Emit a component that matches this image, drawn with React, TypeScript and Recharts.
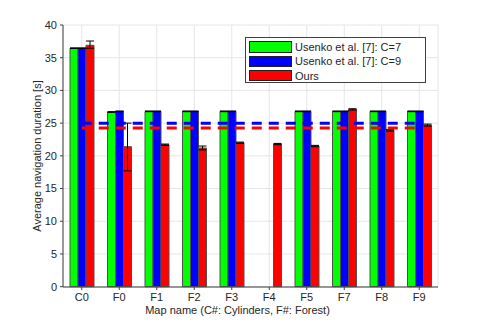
import React from 'react';
import { ComposedChart, Bar, Line, XAxis, YAxis, CartesianGrid, ErrorBar } from 'recharts';

const maps = ['C0', 'F0', 'F1', 'F2', 'F3', 'F4', 'F5', 'F7', 'F8', 'F9'];
const seriesNames = ['Usenko et al. [7]: C=7', 'Usenko et al. [7]: C=9', 'Ours'];
const seriesColors = ['#00ff00', '#0000ff', '#ff0000'];
const usenkoC7 = [36.45, 26.7, 26.8, 26.8, 26.8, 0, 26.8, 26.8, 26.8, 26.8];
const usenkoC9 = [36.45, 26.8, 26.8, 26.8, 26.8, 0, 26.8, 26.8, 26.8, 26.8];
const ours = [36.9, 21.4, 21.7, 21.2, 22.0, 21.8, 21.5, 27.1, 23.9, 24.7];
const errC7 = [0.05, 0.05, 0.05, 0.05, 0.05, 0.05, 0.05, 0.05, 0.05, 0.05];
const errC9 = [0.05, 0.05, 0.05, 0.05, 0.05, 0.05, 0.05, 0.05, 0.05, 0.05];
const errOurs: [number, number][] = [
  [0.45, 0.65], [3.7, 3.6], [0.1, 0.1], [0.3, 0.3], [0.1, 0.1],
  [0.1, 0.1], [0.1, 0.1], [0.1, 0.1], [0.1, 0.1], [0.15, 0.15],
];
const meanC9 = 25.0;
const meanOurs = 24.25;
const yTicks = [0, 5, 10, 15, 20, 25, 30, 35, 40];

const data = maps.map((m, i) => ({
  name: m,
  c7: usenkoC7[i],
  c9: usenkoC9[i],
  ours: ours[i],
  e7: errC7[i],
  e9: errC9[i],
  eo: errOurs[i],
  m9: meanC9,
  mo: meanOurs,
}));

const FONT = 'Liberation Sans, Arial, Helvetica, sans-serif';
const TXT = '#262626';
const AX = '#404040';

const XLabel = (props: any) => {
  const vb = props.viewBox;
  return (
    <text x={vb.x + vb.width / 2 - 13} y={vb.y + 24} textAnchor="middle" dominantBaseline="middle" fontSize={11} fill={TXT} fontFamily={FONT}>
      Map name (C#: Cylinders, F#: Forest)
    </text>
  );
};

const YLabel = (props: any) => {
  const vb = props.viewBox;
  const cx = vb.x + vb.width / 2 - 10;
  const cy = vb.y + vb.height / 2;
  return (
    <text x={cx} y={cy} transform={`rotate(-90, ${cx}, ${cy})`} textAnchor="middle" dominantBaseline="middle" fontSize={11} fill={TXT} fontFamily={FONT}>
      Average navigation duration [s]
    </text>
  );
};

export default function App() {
  return (
    <div style={{ position: 'absolute', left: 0, top: 0, width: 485, height: 323, background: '#fff' }}>
      <ComposedChart
        width={485}
        height={323}
        data={data}
        margin={{ top: 25, right: 47, bottom: 6, left: 33 }}
        barGap={0}
        barCategoryGap="18%"
      >
        <CartesianGrid stroke="#e6e6e6" strokeWidth={1} />
        <XAxis
          dataKey="name"
          height={30}
          tickSize={3}
          tickMargin={3}
          stroke={AX}
          tick={{ fontSize: 11, fill: TXT, fontFamily: FONT }}
          interval={0}
          label={<XLabel />}
        />
        <XAxis xAxisId="top" dataKey="name" orientation="top" height={0} tick={false} tickLine={false} stroke={AX} />
        <YAxis
          domain={[0, 40]}
          ticks={yTicks}
          width={30}
          tickSize={3}
          tickMargin={3}
          stroke={AX}
          interval={0}
          tick={{ fontSize: 11, fill: TXT, fontFamily: FONT }}
          label={<YLabel />}
        />
        <YAxis yAxisId="right" orientation="right" domain={[0, 40]} ticks={yTicks} width={0} tick={false} tickLine={false} stroke={AX} />
        <Bar dataKey="c7" name={seriesNames[0]} fill={seriesColors[0]} stroke="#505050" strokeWidth={1} barSize={8} isAnimationActive={false}>
          <ErrorBar dataKey="e7" width={4} stroke="#000" strokeWidth={1} direction="y" />
        </Bar>
        <Bar dataKey="c9" name={seriesNames[1]} fill={seriesColors[1]} stroke="#505050" strokeWidth={1} barSize={8} isAnimationActive={false}>
          <ErrorBar dataKey="e9" width={4} stroke="#000" strokeWidth={1} direction="y" />
        </Bar>
        <Bar dataKey="ours" name={seriesNames[2]} fill={seriesColors[2]} stroke="#505050" strokeWidth={1} barSize={8} isAnimationActive={false}>
          <ErrorBar dataKey="eo" width={4} stroke="#000" strokeWidth={1} direction="y" />
        </Bar>
        <Line dataKey="m9" stroke="#0000ff" strokeWidth={3} strokeDasharray="10 7" dot={false} activeDot={false} legendType="none" isAnimationActive={false} />
        <Line dataKey="mo" stroke="#ff0000" strokeWidth={3} strokeDasharray="10 7" dot={false} activeDot={false} legendType="none" isAnimationActive={false} />
      </ComposedChart>
      <div
        style={{
          position: 'absolute', left: 245, top: 37, width: 181, height: 46, boxSizing: 'border-box',
          border: '1px solid #404040', background: '#fff', fontFamily: FONT, fontSize: 11, color: TXT,
          paddingTop: 2,
        }}
      >
        {seriesNames.map((n, i) => (
          <div key={n} style={{ display: 'flex', alignItems: 'center', height: 14.3, marginLeft: 3 }}>
            <div style={{ width: 43, height: 11.5, boxSizing: 'border-box', background: seriesColors[i], border: '1px solid #202020', marginRight: 3 }} />
            <span style={{ whiteSpace: 'nowrap' }}>{n}</span>
          </div>
        ))}
      </div>
    </div>
  );
}
